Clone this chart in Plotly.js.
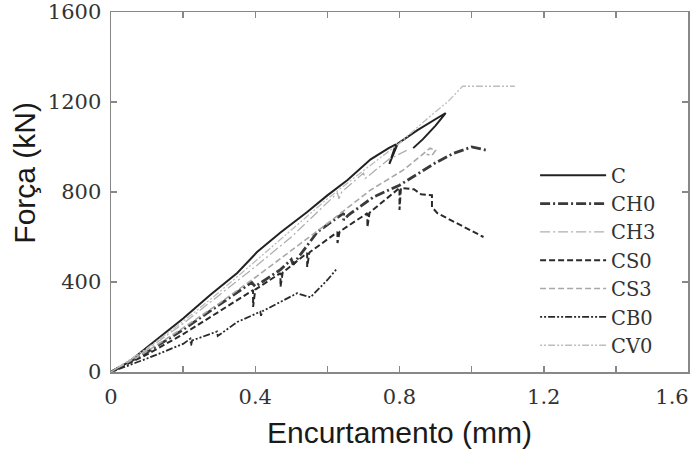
<!DOCTYPE html>
<html><head><meta charset="utf-8">
<script src="https://cdn.plot.ly/plotly-3.0.1.min.js"></script>
<style>html,body{margin:0;padding:0;background:#fff}#chart{width:692px;height:452px}</style>
</head><body><div id="chart"></div>
<script>
// Series names
const seriesNames = ["C", "CH0", "CH3", "CS0", "CS3", "CB0", "CV0"];

// C (solid)
const cX = [0, 0.05, 0.1, 0.15, 0.2, 0.275, 0.35, 0.405, 0.47, 0.544, 0.6, 0.656, 0.72, 0.77, 0.79, 0.772, 0.795, 0.85, 0.928, 0.9, 0.865, 0.838];
const cY = [0, 45, 110, 172, 238, 342, 440, 533, 620, 711, 785, 853, 945, 995, 1012, 925, 1015, 1075, 1151, 1095, 1035, 995];

// CH0 (dash-dot, dark)
const ch0X = [0, 0.1, 0.2, 0.3, 0.39, 0.4, 0.47, 0.5, 0.505, 0.572, 0.645, 0.645, 0.66, 0.728, 0.8, 0.85, 0.9, 0.95, 1.0, 1.044];
const ch0Y = [0, 88, 188, 298, 398, 380, 455, 500, 478, 622, 706, 676, 700, 778, 830, 880, 930, 972, 1000, 985];

// CH3 (dash-dot, light)
const ch3X = [0, 0.1, 0.2, 0.3, 0.4, 0.5, 0.628, 0.632, 0.64, 0.7, 0.705, 0.77, 0.82];
const ch3Y = [0, 100, 215, 340, 468, 600, 796, 770, 800, 884, 860, 945, 985];

// CS0 (dashed, dark) with unloading drops
const cs0X = [0, 0.1, 0.2, 0.3, 0.394, 0.394, 0.4, 0.47, 0.47, 0.476, 0.544, 0.544, 0.55, 0.628, 0.628, 0.634, 0.711, 0.711, 0.717, 0.8, 0.8, 0.804, 0.84, 0.86, 0.89, 0.89, 0.905, 1.033];
const cs0Y = [0, 78, 168, 268, 364, 289, 366, 440, 378, 442, 529, 467, 531, 622, 573, 624, 706, 644, 708, 818, 720, 818, 812, 790, 786, 733, 706, 600];

// CS3 (dashed, light)
const cs3X = [0, 0.1, 0.2, 0.3, 0.4, 0.5, 0.6, 0.72, 0.81, 0.86, 0.885, 0.9, 0.89, 0.875];
const cs3Y = [0, 92, 196, 305, 420, 540, 660, 809, 897, 962, 995, 985, 962, 968];

// CB0 (dash-dot-dot, dark)
const cb0X = [0, 0.1, 0.2, 0.22, 0.222, 0.225, 0.294, 0.296, 0.35, 0.414, 0.416, 0.42, 0.516, 0.545, 0.553, 0.6, 0.628];
const cb0Y = [0, 60, 125, 148, 118, 140, 180, 160, 222, 268, 250, 270, 350, 338, 332, 409, 462];

// CV0 (dash-dot-dot, light)
const cv0X = [0, 0.1, 0.2, 0.3, 0.4, 0.5, 0.6, 0.7, 0.8, 0.88, 0.933, 0.975, 1.12];
const cv0Y = [0, 105, 225, 355, 492, 630, 770, 895, 1017, 1130, 1200, 1270, 1270];

const xTicks = [0, 0.4, 0.8, 1.2];
const xLastTick = [1.6];
const yTicks = [0, 400, 800, 1200, 1600];
const xTitle = "Encurtamento (mm)";
const yTitle = "Força (kN)";

const dark = "#2a2a2a", light = "#b0b0b0";
const traces = [
  {x: cX, y: cY, name: seriesNames[0], line: {color: "#222", width: 2, dash: "solid"}},
  {x: ch0X, y: ch0Y, name: seriesNames[1], line: {color: "#3a3a3a", width: 2.8, dash: "10px,3px,2px,3px"}},
  {x: ch3X, y: ch3Y, name: seriesNames[2], line: {color: light, width: 1.3, dash: "10px,3px,2px,3px"}},
  {x: cs0X, y: cs0Y, name: seriesNames[3], line: {color: dark, width: 2, dash: "6px,3px"}},
  {x: cs3X, y: cs3Y, name: seriesNames[4], line: {color: "#a8a8a8", width: 1.6, dash: "6px,3px"}},
  {x: cb0X, y: cb0Y, name: seriesNames[5], line: {color: dark, width: 1.8, dash: "2px,2px,2px,2px,7px,2px"}},
  {x: cv0X, y: cv0Y, name: seriesNames[6], line: {color: "#bdbdbd", width: 1.3, dash: "2px,2px,2px,2px,7px,2px"}}
].map(t => Object.assign({type: "scatter", mode: "lines"}, t));
// empty helper trace so the secondary x axis (carrying only the "1.6" label) is drawn
traces.push({type: "scatter", mode: "lines", x: [], y: [], xaxis: "x2", yaxis: "y", showlegend: false, hoverinfo: "skip"});

const tickFont = {family: "DejaVu Serif", size: 21, color: "#333"};
const axisBase = {
  showline: true, linecolor: "#888", linewidth: 1.5, mirror: "ticks",
  ticks: "inside", ticklen: 6, tickcolor: "#888", tickwidth: 1.5,
  showgrid: false, zeroline: false, tickfont: tickFont
};
const layout = {
  width: 692, height: 452,
  margin: {l: 111, r: 4, t: 12, b: 80},
  paper_bgcolor: "#fff", plot_bgcolor: "#fff",
  xaxis: Object.assign({}, axisBase, {
    range: [0, 1.6], tickvals: xTicks, ticktext: xTicks.map(String),
    minor: {dtick: 0.2, ticks: "inside", ticklen: 6, tickcolor: "#888", tickwidth: 1.5},
    ticklabelstandoff: 5,
    title: {text: xTitle, font: {family: "Liberation Sans", size: 30, color: "#1a1a1a"}, standoff: 14}
  }),
  xaxis2: {
    overlaying: "x", anchor: "y", side: "bottom", range: [0, 1.6],
    tickmode: "array", tickvals: xLastTick, ticktext: xLastTick.map(String),
    showline: false, ticks: "", showgrid: false, zeroline: false,
    tickfont: tickFont, ticklabelstandoff: 10, ticklabelshift: -16, ticklabeloverflow: "allow"
  },
  yaxis: Object.assign({}, axisBase, {
    range: [0, 1600], tickvals: yTicks, ticktext: yTicks.map(String),
    ticklabelstandoff: 4
  }),
  annotations: [{
    text: yTitle, textangle: -90, xref: "paper", yref: "paper",
    x: -0.15, y: 0.555, xanchor: "center", yanchor: "middle", showarrow: false,
    font: {family: "Liberation Sans", size: 30, color: "#1a1a1a"}
  }],
  showlegend: true,
  legend: {
    x: 0.735, y: 0.6, xanchor: "left", yanchor: "top",
    bgcolor: "rgba(0,0,0,0)", borderwidth: 0,
    font: {family: "DejaVu Serif", size: 19.5, color: "#333"},
    tracegroupgap: 0, itemwidth: 66
  }
};
Plotly.newPlot("chart", traces, layout, {staticPlot: true, displayModeBar: false});
</script></body></html>
